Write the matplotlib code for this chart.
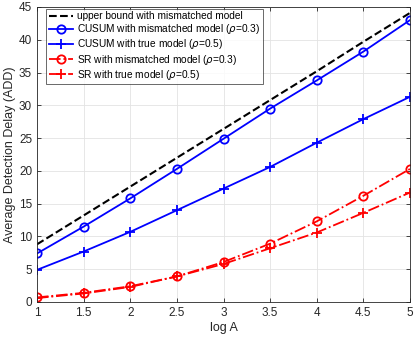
import numpy as np
import matplotlib.pyplot as plt

plt.rcParams['font.family'] = ['Liberation Sans', 'DejaVu Sans']
plt.rcParams['mathtext.fontset'] = 'dejavusans'

# data
logA = [1, 1.5, 2, 2.5, 3, 3.5, 4, 4.5, 5]
upper = [8.8, 13.2, 17.6, 22.0, 26.4, 30.8, 35.2, 39.7, 44.1]
cusum_mis = [7.4, 11.5, 15.8, 20.3, 24.9, 29.5, 33.8, 38.2, 43.0]
cusum_true = [4.9, 7.7, 10.7, 14.0, 17.3, 20.6, 24.3, 27.9, 31.3]
sr_mis = [0.7, 1.4, 2.4, 3.9, 6.1, 8.9, 12.3, 16.2, 20.3]
sr_true = [0.6, 1.3, 2.3, 3.9, 5.8, 8.2, 10.6, 13.6, 16.7]

fig = plt.figure(figsize=(4.15, 3.41), dpi=100)
ax = fig.add_axes([37/415, 1 - 302/341, 373/415, 295/341])

ax.plot(logA, upper, 'k--', lw=1.5, label='upper bound with mismatched model')
ax.plot(logA, cusum_mis, '-o', color='#0000ff', lw=1.3, ms=6, mfc='none', mew=1.3,
        label=r'CUSUM with mismatched model ($\rho$=0.3)')
ax.plot(logA, cusum_true, '-+', color='#0000ff', lw=1.3, ms=7, mew=1.3,
        label=r'CUSUM with true model ($\rho$=0.5)')
ax.plot(logA, sr_mis, '-.o', color='#ff0000', lw=1.3, ms=6, mfc='none', mew=1.3,
        label=r'SR with mismatched model ($\rho$=0.3)')
ax.plot(logA, sr_true, '-.+', color='#ff0000', lw=1.3, ms=7, mew=1.3,
        label=r'SR with true model ($\rho$=0.5)')

ax.set_xlim(1, 5)
ax.set_ylim(0, 45)
ax.set_xticks(logA)
ax.set_xticklabels(['1', '1.5', '2', '2.5', '3', '3.5', '4', '4.5', '5'])
ax.set_yticks(np.arange(0, 46, 5))
ax.grid(True, color='#e3e3e3', lw=0.6)
ax.set_axisbelow(True)
ax.tick_params(direction='in', top=True, right=True, labelsize=8.5,
               colors='#262626', length=3, width=0.6)
for s in ax.spines.values():
    s.set_color('#262626')
    s.set_linewidth(0.6)

ax.set_xlabel('log A', fontsize=9, color='#262626', labelpad=2)
ax.set_ylabel('Average Detection Delay (ADD)', fontsize=9, color='#262626', labelpad=2)

leg = ax.legend(loc='upper left', fontsize=7.3, frameon=True, fancybox=False,
                edgecolor='#262626', handlelength=2.4, borderpad=0.25,
                labelspacing=0.12, handletextpad=0.4, borderaxespad=0.15,
                bbox_to_anchor=(0.02, 1.0))
leg.get_frame().set_linewidth(0.6)

fig.savefig('out.png', dpi=100)
